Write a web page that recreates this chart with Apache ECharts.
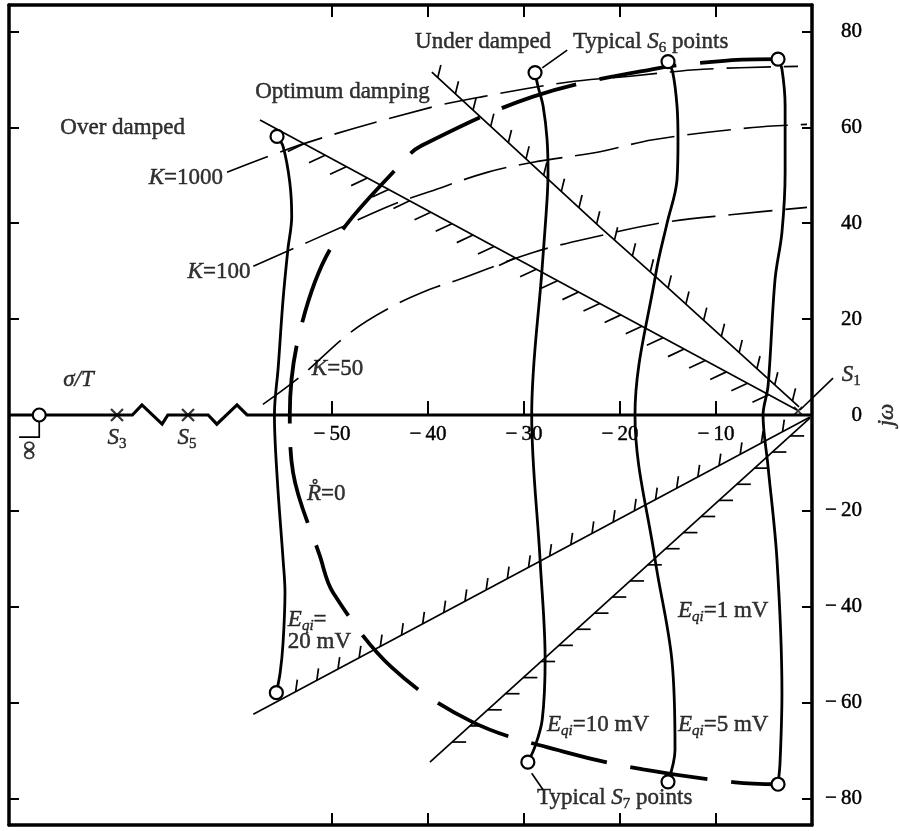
<!DOCTYPE html>
<html>
<head>
<meta charset="utf-8">
<script src="https://cdn.jsdelivr.net/npm/echarts@6/dist/echarts.min.js"></script>
<style>
  html, body { margin: 0; padding: 0; background: #fff; }
  #chart { width: 900px; height: 831px; }
</style>
</head>
<body>
<div id="chart"></div>
<script>
// ---- axis ranges and ticks (sigma on x, j-omega on y) ----
const xRange = [-83.65, 0];
const yRange = [-85.5, 85.5];
const xTickValues = [-50, -40, -30, -20, -10];
const yTickValues = [-80, -60, -40, -20, 20, 40, 60, 80];
const yLabelValues = [-80, -60, -40, -20, 0, 20, 40, 60, 80];

// ---- real axis with the two break symbols ----
const realAxis = [
  [-83.65, 0], [-70.8, 0], [-69.8, 2.1], [-67.7, -1.9], [-67.1, 0],
  [-62.9, 0], [-62.0, -1.9], [-59.9, 2.1], [-58.85, 0], [0, 0]
];
const polesS3S5 = [[-72.4, 0], [-65.0, 0]];
const poleS1 = [[-1.45, 0.85]];
const infinityZero = [[-80.5, 0]];

// ---- loci of constant E_qi (solid) ----
const eqi20 = [
  [-55.73, 58.1], [-55.1, 56.0], [-54.4, 48.5], [-54.2, 41.4], [-54.6, 34.5],
  [-55.1, 24.1], [-55.6, 10.1], [-56.0, 0], [-55.7, -13.5], [-55.1, -30.1],
  [-54.9, -37.0], [-55.1, -47.5], [-55.4, -53.7], [-55.8, -57.9]
];
const eqi10 = [
  [-28.85, 71.4], [-28.54, 68.5], [-28.0, 64.3], [-27.6, 57.5], [-27.5, 50.6],
  [-27.6, 44.9], [-28.1, 31.0], [-29.2, 0], [-28.33, -30.1], [-27.8, -51.0],
  [-28.1, -63.5], [-28.85, -69.1], [-29.6, -72.4]
];
const eqi5 = [
  [-15.0, 73.7], [-14.5, 71.4], [-14.06, 64.4], [-13.96, 57.5], [-14.06, 49.1],
  [-15.1, 40.0], [-16.25, 29.7], [-18.44, 0], [-16.35, -30.1], [-14.6, -51.0],
  [-14.27, -69.8], [-15.0, -76.5]
];
const eqi1 = [
  [-3.54, 74.2], [-3.13, 72.1], [-2.8, 64.4], [-2.8, 50.6], [-3.13, 38.1],
  [-3.85, 28.3], [-4.58, 6.0], [-5.1, 0], [-4.58, -10.7], [-3.65, -30.1],
  [-3.13, -57.9], [-3.33, -72.5], [-3.54, -77.0]
];

// ---- loci of constant gain K (thin dashed) ----
const k1000 = [
  [-60.94, 50.6], [-52.6, 56.8], [-39.8, 64.1], [-34.3, 66.4], [-25.5, 69.4],
  [-19.2, 70.6], [-11.35, 72.1], [-1.46, 72.7]
];
const k100 = [
  [-58.2, 31.0], [-48.85, 39.3], [-43.65, 43.9], [-39.8, 46.6], [-33.85, 50.6],
  [-29.06, 52.7], [-22.08, 54.9], [-16.56, 57.4], [-6.15, 59.97], [-0.52, 60.6]
];
const k50 = [
  [-57.2, 2.2], [-53.3, 8.0], [-48.1, 17.2], [-43.96, 22.4], [-39.8, 26.2],
  [-36.7, 28.3], [-29.06, 33.9], [-22.08, 37.4], [-15.3, 40.2], [-8.23, 41.8],
  [-0.52, 43.3]
];

// ---- R-dot = 0 boundary (thick long dashes) ----
const rDotZero = [
  [-3.54, 74.2], [-8.85, 73.9], [-16.67, 72.1], [-29.06, 66.4], [-40.83, 56.0],
  [-42.6, 52.9], [-49.9, 35.6], [-53.3, 17.8], [-54.4, 0], [-54.06, -12.0],
  [-51.25, -29.5], [-49.9, -37.0], [-43.75, -52.7], [-35.3, -64.1], [-25.5, -70.4],
  [-17.6, -73.9], [-8.0, -76.6], [-3.54, -77.0]
];

// ---- hatched damping boundaries ----
const optimumLine = [[-57.5, 61.5], [-1.56, 1.04]];
const underLine = [[-39.6, 71.5], [-22.08, 39.2], [-16.15, 28.6], [-1.35, 1.67]];
const lowerLineA = [[-58.2, -62.4], [-0.2, -0.4]];
const lowerLineB = [[-39.8, -72.4], [-0.2, -0.6]];

// ---- end points of each E_qi locus ----
const s6Points = [eqi20[0], eqi10[0], eqi5[0], eqi1[0]];
const s7Points = [eqi20[eqi20.length - 1], eqi10[eqi10.length - 1], eqi5[eqi5.length - 1], eqi1[eqi1.length - 1]];

// ---- arrows and leaders ----
const arrowS6 = [[-25.5, 76.1], [-28.1, 72.4]];
const arrowS7 = [[-28.0, -78.2], [-29.2, -74.7]];
const arrowInfinity = [[-80.5, -1.3], [-80.5, -4.6], [-82.6, -4.6]];
const leaderS1 = [[-1.25, 1.04], [2.19, 7.7]];

// ---- styling ----
const INK = '#000';
const SERIF = '"Liberation Serif", "DejaVu Serif", serif';
const minus = v => (v < 0 ? '\u2212\u2009' + Math.abs(v) : String(v));
const heavy = { textBorderColor: INK, textBorderWidth: 0.45 };

const rich = {
  r: Object.assign({ fontFamily: SERIF, fontSize: 23, color: INK, lineHeight: 27 }, heavy),
  i: Object.assign({ fontFamily: SERIF, fontSize: 23, fontStyle: 'italic', color: INK, lineHeight: 27 }, heavy),
  s: Object.assign({ fontFamily: SERIF, fontSize: 15, fontStyle: 'italic', color: INK, lineHeight: 15, verticalAlign: 'bottom' }, heavy),
  n: Object.assign({ fontFamily: SERIF, fontSize: 15, color: INK, lineHeight: 15, verticalAlign: 'bottom' }, heavy),
  big: Object.assign({ fontFamily: SERIF, fontSize: 27, color: INK, lineHeight: 27 }, heavy)
};

// text annotations placed in data coordinates
const annotations = [
  { at: [-78.3, 59.9], text: '{r|Over damped}', align: 'left' },
  { at: [-58.0, 67.4], text: '{r|Optimum damping}', align: 'left' },
  { at: [-41.35, 77.8], text: '{r|Under damped}', align: 'left' },
  { at: [-24.9, 77.8], text: '{r|Typical }{i|S}{n|6}{r| points}', align: 'left' },
  { at: [-61.35, 49.4], text: '{i|K}{r|=1000}', align: 'right' },
  { at: [-58.5, 29.8], text: '{i|K}{r|=100}', align: 'right' },
  { at: [-52.1, 9.6], text: '{i|K}{r|=50}', align: 'left' },
  { at: [-78.0, 7.3], text: '{i|\u03c3/T}', align: 'left' },
  { at: [-72.4, -4.8], text: '{i|S}{n|3}', align: 'center' },
  { at: [-65.1, -4.8], text: '{i|S}{n|5}', align: 'center' },
  { at: [3.1, 8.3], text: '{i|S}{n|1}', align: 'left' },
  { at: [-52.6, -16.5], text: '{i|R\u030a}{r|=0}', align: 'left' },
  { at: [-54.6, -42.8], text: '{i|E}{s|qi}{r|=}', align: 'left' },
  { at: [-54.6, -47.3], text: '{r|20 mV}', align: 'left' },
  { at: [-27.6, -64.65], text: '{i|E}{s|qi}{r|=10 mV}', align: 'left' },
  { at: [-13.96, -64.65], text: '{i|E}{s|qi}{r|=5 mV}', align: 'left' },
  { at: [-13.96, -40.9], text: '{i|E}{s|qi}{r|=1 mV}', align: 'left' },
  { at: [-28.65, -79.9], text: '{r|Typical }{i|S}{n|7}{r| points}', align: 'left' },
  { at: [-81.45, -7.4], text: '{big|\u221e}', align: 'center', rotate: 90 },
  { at: [7.8, 0], text: '{i|j\u03c9}', align: 'center', rotate: 90 }
];

// hatch appearance for each boundary (pixel units)
const hatchStyles = {
  optimum: { dir: [-0.9, 0.42], len: 18, gap: 24, start: 50, stop: 22 },
  under:   { dir: [0.24, -0.97], len: 13, gap: 24, start: 8, stop: 4 },
  lowerA:  { dir: [0.14, -0.99], len: 12, gap: 24, start: 48, stop: 20 },
  lowerB:  { dir: [1, 0], len: 14, gap: 24, start: 30, stop: 22 }
};

function hatchedLine(points, h) {
  return {
    type: 'custom',
    coordinateSystem: 'cartesian2d',
    xAxisIndex: 0, yAxisIndex: 0,
    clip: false,
    z: 3,
    silent: true,
    data: points,
    renderItem: function (params, api) {
      if (params.dataIndex !== 0) return null;
      const P = points.map(p => api.coord(p));
      const children = [{
        type: 'polyline', shape: { points: P },
        style: { stroke: INK, lineWidth: 1.7, fill: 'none' }
      }];
      const segs = [];
      let total = 0;
      for (let i = 0; i < P.length - 1; i++) {
        const dx = P[i + 1][0] - P[i][0], dy = P[i + 1][1] - P[i][1];
        const L = Math.hypot(dx, dy);
        segs.push({ a: P[i], dx, dy, L, s: total });
        total += L;
      }
      for (let d = h.start; d <= total - h.stop; d += h.gap) {
        const sg = segs.find(s => d >= s.s && d <= s.s + s.L) || segs[segs.length - 1];
        const t = (d - sg.s) / sg.L;
        const x = sg.a[0] + sg.dx * t, y = sg.a[1] + sg.dy * t;
        children.push({
          type: 'line',
          shape: { x1: x, y1: y, x2: x + h.dir[0] * h.len, y2: y + h.dir[1] * h.len },
          style: { stroke: INK, lineWidth: 1.7 }
        });
      }
      return { type: 'group', children };
    }
  };
}

function curve(data, width, dash, z) {
  return {
    type: 'line', xAxisIndex: 0, yAxisIndex: 0, data,
    symbol: 'none', smooth: 0.35, z: z || 2, silent: true,
    lineStyle: { color: INK, width, type: dash || 'solid', cap: 'butt' }
  };
}

function arrow(coords, withHead, clip) {
  return {
    type: 'lines', coordinateSystem: 'cartesian2d', xAxisIndex: 0, yAxisIndex: 0,
    polyline: true, clip: clip !== false, z: 5, silent: true,
    symbol: withHead ? ['none', 'arrow'] : ['none', 'none'], symbolSize: 11,
    lineStyle: { color: INK, width: 1.7, opacity: 1, curveness: 0 },
    data: [{ coords }]
  };
}

const tickLine = { lineStyle: { color: INK, width: 2 } };
const frameLine = { show: true, onZero: false, lineStyle: { color: INK, width: 3.5 } };
const gridBox = { left: 9, top: 5, width: 803, height: 820, show: false, containLabel: false, outerBoundsMode: 'none' };
const tickFont = Object.assign({ fontFamily: SERIF, fontSize: 21, color: INK }, heavy);

const option = {
  animation: false,
  backgroundColor: '#fff',
  grid: [ Object.assign({}, gridBox), Object.assign({}, gridBox) ],
  xAxis: [
    { // sigma scale carried on the real axis (half the plot height above the bottom edge)
      type: 'value', gridIndex: 0, min: xRange[0], max: xRange[1], position: 'bottom',
      offset: -410,
      axisLine: { show: false, onZero: false },
      axisTick: { show: true, inside: true, length: 14, customValues: xTickValues, ...tickLine },
      axisLabel: Object.assign({ show: true, customValues: xTickValues, formatter: minus, margin: 9 }, tickFont),
      splitLine: { show: false }
    },
    { // top frame
      type: 'value', gridIndex: 0, min: xRange[0], max: xRange[1], position: 'top',
      axisLine: frameLine,
      axisTick: { show: true, inside: true, length: 12, customValues: xTickValues, ...tickLine },
      axisLabel: { show: false }, splitLine: { show: false }
    },
    { // bottom frame
      type: 'value', gridIndex: 1, min: xRange[0], max: xRange[1], position: 'bottom',
      axisLine: frameLine,
      axisTick: { show: true, inside: true, length: 12, customValues: xTickValues, ...tickLine },
      axisLabel: { show: false }, splitLine: { show: false }
    }
  ],
  yAxis: [
    { // right frame with j-omega values
      type: 'value', gridIndex: 0, min: yRange[0], max: yRange[1], position: 'right',
      axisLine: frameLine,
      axisTick: { show: true, inside: true, length: 10, customValues: yTickValues, ...tickLine },
      axisLabel: Object.assign({ show: true, customValues: yLabelValues, formatter: minus, align: 'right', margin: 50 }, tickFont),
      splitLine: { show: false }
    },
    { // left frame
      type: 'value', gridIndex: 0, min: yRange[0], max: yRange[1], position: 'left',
      axisLine: frameLine,
      axisTick: { show: true, inside: true, length: 10, customValues: yTickValues, ...tickLine },
      axisLabel: { show: false }, splitLine: { show: false }
    },
    {
      type: 'value', gridIndex: 1, min: yRange[0], max: yRange[1], show: false
    }
  ],
  series: [
    // sigma axis
    { type: 'line', xAxisIndex: 0, yAxisIndex: 0, data: realAxis, symbol: 'none', z: 2, silent: true,
      lineStyle: { color: INK, width: 3.2, join: 'miter' } },
    // constant-gain loci
    curve(k1000, 1.6, [44, 13]),
    curve(k100, 1.6, [44, 13]),
    curve(k50, 1.6, [44, 13]),
    // R-dot = 0 boundary
    curve(rDotZero, 3.8, [78, 24]),
    // constant E_qi loci
    curve(eqi20, 2.8),
    curve(eqi10, 2.8),
    curve(eqi5, 2.8),
    curve(eqi1, 2.8),
    // hatched damping boundaries
    hatchedLine(optimumLine, hatchStyles.optimum),
    hatchedLine(underLine, hatchStyles.under),
    hatchedLine(lowerLineA, hatchStyles.lowerA),
    hatchedLine(lowerLineB, hatchStyles.lowerB),
    // arrows and leaders
    arrow(arrowS6, true),
    arrow(arrowS7, true),
    arrow(arrowInfinity, true),
    arrow(leaderS1, false, false),
    // typical S6 / S7 points and the zero at infinity
    { type: 'scatter', xAxisIndex: 0, yAxisIndex: 0, z: 6, silent: true,
      data: s6Points.concat(s7Points, infinityZero),
      symbol: 'circle', symbolSize: 13,
      itemStyle: { color: '#fff', borderColor: INK, borderWidth: 2.2, opacity: 1 } },
    // poles S3, S5
    { type: 'scatter', xAxisIndex: 0, yAxisIndex: 0, z: 6, silent: true,
      data: polesS3S5, symbol: 'path://M0,0L10,10M10,0L0,10', symbolSize: 12,
      itemStyle: { color: 'none', borderColor: INK, borderWidth: 2.2 } },
    // pole S1
    { type: 'scatter', xAxisIndex: 0, yAxisIndex: 0, z: 6, silent: true,
      data: poleS1, symbol: 'path://M0,0L10,10M10,0L0,10', symbolSize: 8,
      itemStyle: { color: 'none', borderColor: INK, borderWidth: 1.8 } },
    // text annotations
    { type: 'scatter', xAxisIndex: 0, yAxisIndex: 0, z: 7, silent: true, clip: false,
      symbolSize: 1, itemStyle: { color: 'rgba(0,0,0,0)' },
      data: annotations.map(a => ({
        value: a.at,
        label: {
          show: true, position: 'inside', formatter: a.text, rich,
          align: a.align, verticalAlign: 'middle', rotate: a.rotate || 0
        }
      }))
    }
  ]
};

const chart = echarts.init(document.getElementById('chart'), null, { renderer: 'canvas' });
chart.setOption(option);
</script>
</body>
</html>
